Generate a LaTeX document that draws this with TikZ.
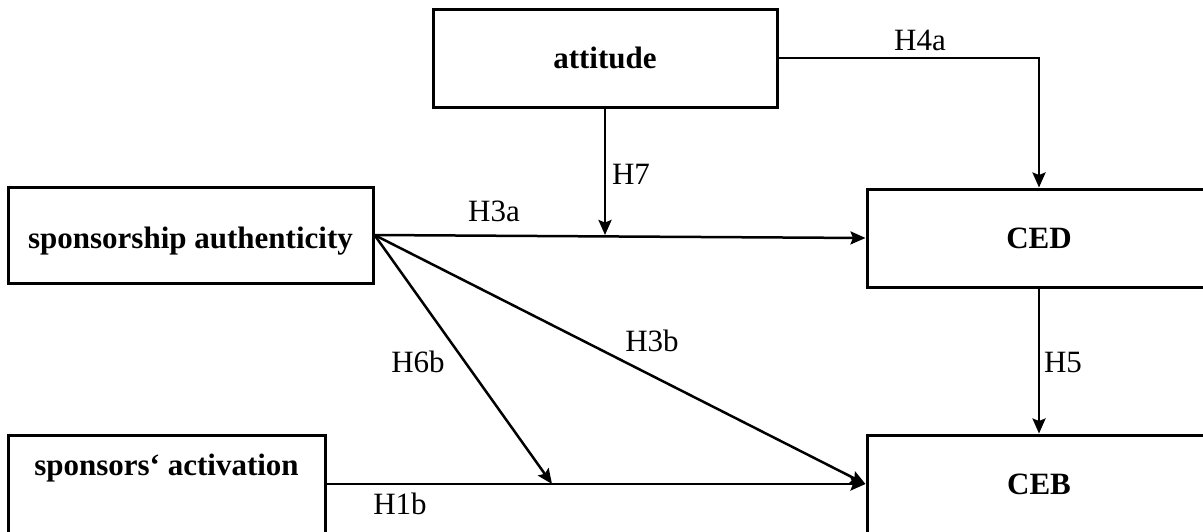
\documentclass[tikz,border=0pt]{standalone}
\usepackage{fontspec}
\setmainfont{Liberation Serif}
\usetikzlibrary{arrows.meta}
\begin{document}
\begin{tikzpicture}[x=1pt,y=-1pt,
  box/.style={draw, line width=3pt, inner sep=0pt,
    font=\fontsize{31}{36}\selectfont\bfseries},
  link/.style={line width=2.5pt,
    -{Stealth[length=15pt,width=13pt,inset=2.5pt]}},
  lbl/.style={inner sep=0pt, font=\fontsize{31}{36}\selectfont}]
\useasboundingbox (0,0) rectangle (1203,531);
\clip (0,0) rectangle (1203,531);

% constructs
\node[box, minimum width=344pt, minimum height=98pt] (att) at (605,58) {attitude};
\node[box, minimum width=365pt, minimum height=96pt,
      text height=26pt, text depth=0pt] (sa) at (190.5,235) {sponsorship authenticity};
\node[box, minimum width=344pt, minimum height=98pt] (ced) at (1039,238) {CED};
\node[box, minimum width=344pt, minimum height=98pt] (ceb) at (1039,484) {CEB};
\node[box, minimum width=317pt, minimum height=98pt,
      text height=22pt, text depth=40pt] (act) at (166.5,484) {sponsors‘ activation};

% anchor points on paths
\coordinate (mod) at (att.south |- sa.east);
\coordinate (modb) at (552,484);

% paths
\draw[link] (att.east) -| (ced.north);
\draw[link] (att.south) -- (mod);
\draw[link] (sa.east) -- (ced.west);
\draw[link] (sa.east) -- (ceb.west);
\draw[link] (sa.east) -- (modb);
\draw[link] (act.east) -- (ceb.west);
\draw[link] (ced.south) -- (ceb.north);

% hypothesis labels
\node[lbl] (h4a) at (920,40) {H4a};
\node[lbl] (h7) at (631,174) {H7};
\node[lbl] (h3a) at (494,211) {H3a};
\node[lbl] (h3b) at (652,341) {H3b};
\node[lbl] (h6b) at (418,362) {H6b};
\node[lbl] (h5) at (1063,362) {H5};
\node[lbl] (h1b) at (400,504) {H1b};
\end{tikzpicture}
\end{document}
